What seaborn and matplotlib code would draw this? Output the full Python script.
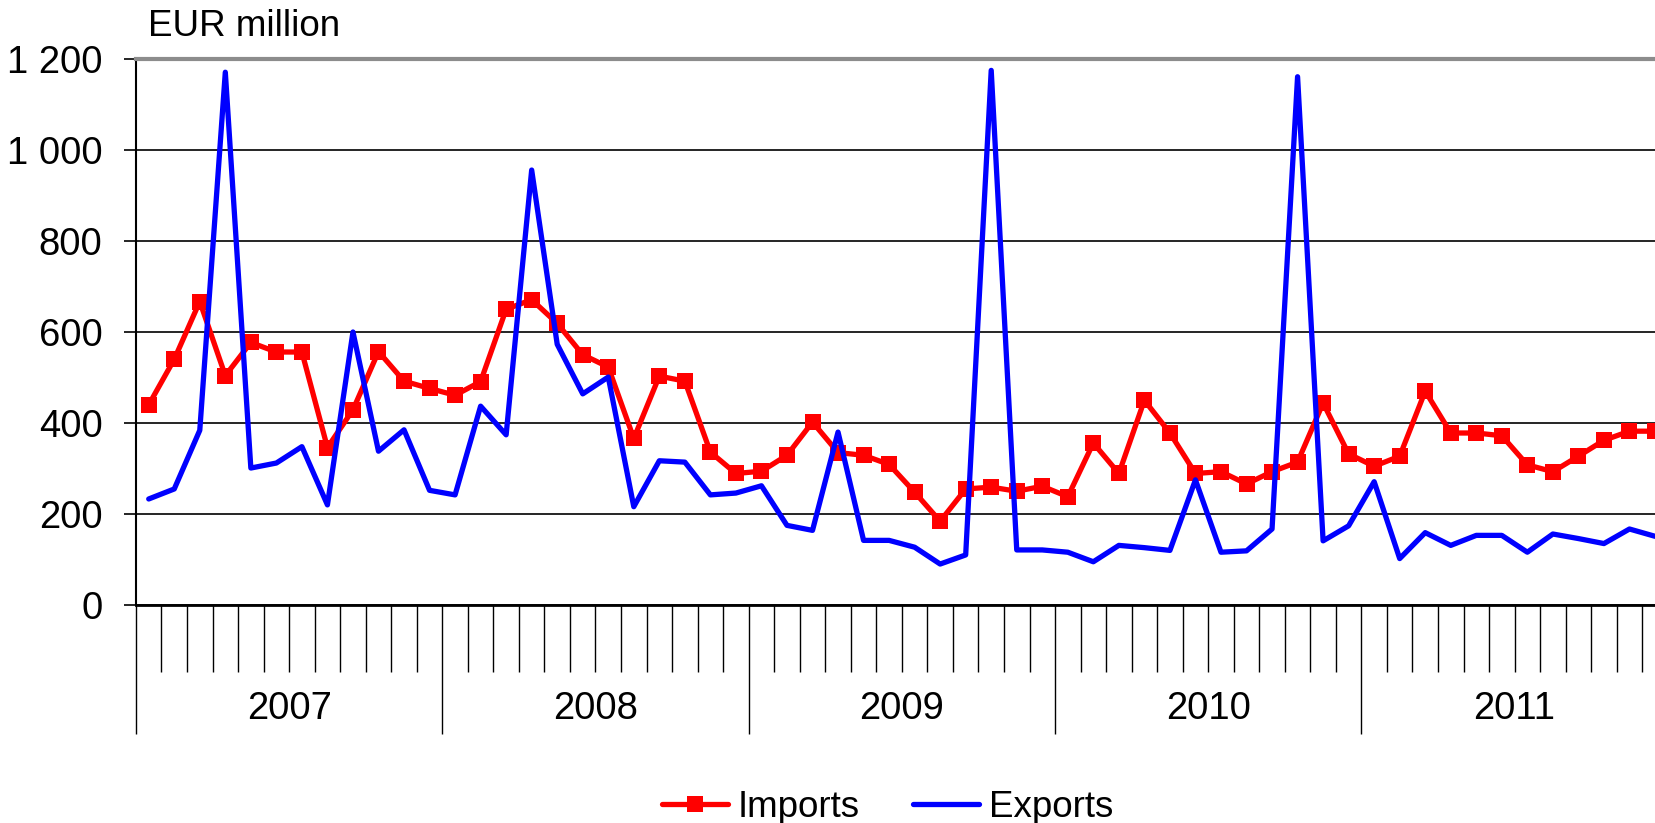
import numpy as np
import pandas as pd
import matplotlib
matplotlib.use('Agg')
import matplotlib.pyplot as plt
import seaborn as sns

# Monthly values, EUR million, Jan 2007 - Dec 2011
years = ['2007', '2008', '2009', '2010', '2011']
imports = [440, 540, 667, 504, 577, 556, 556, 346, 429, 557, 492, 476,
           461, 491, 650, 671, 619, 550, 523, 366, 503, 492, 336, 289,
           294, 329, 402, 335, 329, 309, 248, 184, 255, 259, 250, 261,
           238, 356, 289, 450, 378, 289, 293, 266, 293, 314, 444, 332,
           305, 327, 470, 378, 378, 372, 308, 293, 327, 362, 382, 382]
exports = [233, 255, 384, 1171, 301, 312, 348, 220, 600, 338, 385, 252,
           242, 437, 374, 956, 573, 464, 501, 216, 317, 314, 242, 246,
           262, 175, 164, 380, 142, 142, 127, 90, 110, 1175, 121, 121,
           116, 95, 131, 126, 120, 275, 116, 119, 167, 1161, 141, 174,
           271, 102, 159, 131, 153, 153, 116, 156, 146, 135, 167, 151]

df = pd.DataFrame({'month': np.arange(len(imports)) + 0.5,
                   'Imports': imports, 'Exports': exports})

sns.set_style('white')
plt.rcParams['font.family'] = ['Liberation Sans', 'DejaVu Sans']
plt.rcParams['text.color'] = 'black'
plt.rcParams['ytick.labelcolor'] = 'black'
plt.rcParams['ytick.color'] = 'black'

fig = plt.figure(figsize=(16.56, 8.23), dpi=100)
ax = fig.add_axes([0.0821, 0.2649, 0.925, 0.6634])

sns.lineplot(data=df, x='month', y='Imports', ax=ax, color='#ff0000', lw=3.8,
             marker='s', markersize=11, markeredgewidth=0, label='Imports')
sns.lineplot(data=df, x='month', y='Exports', ax=ax, color='#0000ff', lw=3.8,
             label='Exports')

ax.set_xlim(0, len(imports))
ax.set_ylim(0, 1200)
ax.set_yticks(range(0, 1201, 200))
ax.set_yticklabels([f'{v:,}'.replace(',', ' ') for v in range(0, 1201, 200)])
ax.set_xticks([])
ax.set_xlabel('')
ax.set_ylabel('')
ax.tick_params(axis='y', left=True, length=9, width=1.2, color='black',
               pad=15, labelsize=27.5)
ax.yaxis.grid(True, color='black', lw=1.2)
ax.set_axisbelow(True)

ax.spines['right'].set_visible(False)
ax.spines['top'].set_color('#8c8c8c')
ax.spines['top'].set_linewidth(3)
ax.spines['left'].set_color('black')
ax.spines['left'].set_linewidth(1.5)
ax.spines['bottom'].set_color('black')
ax.spines['bottom'].set_linewidth(2)

# month separators and year separators below the axis
tr = ax.get_xaxis_transform()
n = len(imports)
month_lines = [m for m in range(1, n) if m % 12 != 0]
year_lines = list(range(0, n + 1, 12))
ax.vlines(month_lines, -0.123, 0, transform=tr, color='black', lw=1,
          clip_on=False)
ax.vlines(year_lines, -0.236, 0, transform=tr, color='black', lw=1,
          clip_on=False)
for i, y in enumerate(years):
    ax.text(12 * i + 6, -0.19, y, transform=tr, ha='center', va='center',
            fontsize=27.5)

fig.text(148 / 1656, 1 - 27 / 823, 'EUR million', ha='left', va='center',
         fontsize=26.5)

ax.legend(loc='center', bbox_to_anchor=(0.536, 0.019),
          bbox_transform=fig.transFigure, ncol=2, frameon=False,
          handlelength=1.8, handletextpad=0.25, columnspacing=1.45,
          borderpad=0, fontsize=26.5)

fig.savefig('out.png', dpi=100)
